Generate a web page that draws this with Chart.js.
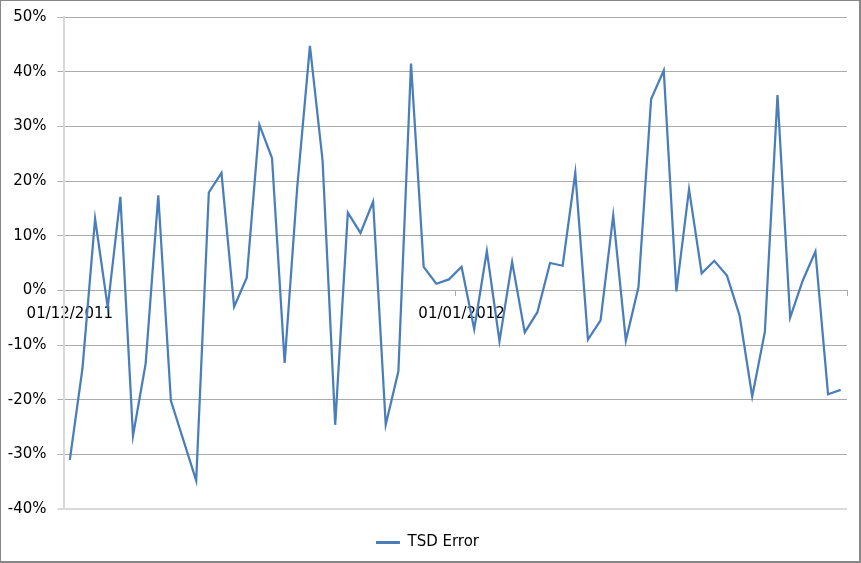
<!DOCTYPE html>
<html>
<head>
<meta charset="utf-8">
<script src="https://cdn.jsdelivr.net/npm/chart.js@4"></script>
<style>
  html, body { margin: 0; padding: 0; background: #fff; }
  #wrap { position: absolute; left: 0; top: 0; width: 861px; height: 563px; }
</style>
</head>
<body>
<div id="wrap"><canvas id="c" width="861" height="563"></canvas></div>
<script>
// Categories: daily dates, 01/12/2011 .. 31/01/2012
const dates = [
  "01/12/2011","02/12/2011","03/12/2011","04/12/2011","05/12/2011","06/12/2011","07/12/2011","08/12/2011",
  "09/12/2011","10/12/2011","11/12/2011","12/12/2011","13/12/2011","14/12/2011","15/12/2011","16/12/2011",
  "17/12/2011","18/12/2011","19/12/2011","20/12/2011","21/12/2011","22/12/2011","23/12/2011","24/12/2011",
  "25/12/2011","26/12/2011","27/12/2011","28/12/2011","29/12/2011","30/12/2011","31/12/2011",
  "01/01/2012","02/01/2012","03/01/2012","04/01/2012","05/01/2012","06/01/2012","07/01/2012","08/01/2012",
  "09/01/2012","10/01/2012","11/01/2012","12/01/2012","13/01/2012","14/01/2012","15/01/2012","16/01/2012",
  "17/01/2012","18/01/2012","19/01/2012","20/01/2012","21/01/2012","22/01/2012","23/01/2012","24/01/2012",
  "25/01/2012","26/01/2012","27/01/2012","28/01/2012","29/01/2012","30/01/2012","31/01/2012"
];
// Labelled dates on the axis
const shownDates = ["01/12/2011", "01/01/2012"];
// Series values (percent)
const tsdError = [
  -31.0, -14.3, 13.1, -3.1, 17.1, -26.6, -13.4, 17.4, -20.2, -27.5,
  -34.8, 17.9, 21.5, -3.0, 2.3, 30.3, 24.2, -13.3, 19.0, 44.7,
  23.8, -24.6, 14.2, 10.5, 16.2, -24.6, -14.8, 41.5, 4.3, 1.2,
  2.0, 4.3, -7.1, 7.2, -9.3, 5.2, -7.7, -4.0, 5.0, 4.5,
  21.5, -9.0, -5.5, 13.7, -9.2, 0.6, 35.0, 40.2, -0.2, 18.5,
  3.1, 5.4, 2.7, -4.6, -19.4, -7.6, 35.7, -5.0, 1.8, 7.1,
  -19.0, -18.2
];
const seriesName = "TSD Error";
// Y axis tick range
const yMin = -40, yMax = 50, yStep = 10;

const FONT = { family: "'DejaVu Sans', sans-serif", size: 15 };
const BLUE = '#4a7ebb';
const GRID = '#ababab';
const AXIS_LIGHT = '#d9d9d9';

const frame = {
  id: 'frame',
  beforeDraw(chart) {
    const ctx = chart.ctx;
    ctx.save();
    ctx.fillStyle = '#fff';
    ctx.fillRect(0, 0, chart.width, chart.height);
    ctx.restore();
  },
  afterDraw(chart) {
    const ctx = chart.ctx;
    ctx.save();
    ctx.strokeStyle = '#878787';
    ctx.lineWidth = 2;
    ctx.strokeRect(0, 0, chart.width - 1, chart.height - 1);
    ctx.restore();
  }
};

const shownIdx = shownDates.map(d => dates.indexOf(d));

new Chart(document.getElementById('c'), {
  type: 'line',
  data: {
    labels: dates,
    datasets: [{
      label: seriesName,
      data: tsdError,
      borderColor: BLUE,
      backgroundColor: BLUE,
      borderWidth: 2.25,
      pointRadius: 0,
      pointHoverRadius: 0,
      tension: 0,
      fill: false
    }]
  },
  options: {
    responsive: false,
    animation: false,
    events: [],
    layout: { padding: { left: 8, right: 14, top: 17, bottom: 3 } },
    plugins: {
      tooltip: { enabled: false },
      legend: {
        position: 'bottom',
        labels: {
          font: FONT,
          color: '#000',
          boxWidth: 24,
          boxHeight: 3,
          padding: 26,
          generateLabels(chart) {
            const items = Chart.defaults.plugins.legend.labels.generateLabels(chart);
            items.forEach(it => { it.lineWidth = 0; it.fillStyle = BLUE; });
            return items;
          }
        }
      }
    },
    scales: {
      x: {
        type: 'category',
        position: { y: 0 },
        offset: true,
        border: { display: true, color: GRID, width: 1 },
        grid: {
          offset: true,
          drawOnChartArea: false,
          drawTicks: true,
          tickLength: 5,
          tickColor: (c) => (c.index === undefined || shownIdx.includes(c.index)) ? GRID : 'rgba(0,0,0,0)',
          color: (c) => (c.index === undefined || shownIdx.includes(c.index)) ? GRID : 'rgba(0,0,0,0)'
        },
        ticks: {
          autoSkip: false,
          maxRotation: 0,
          minRotation: 0,
          padding: 10,
          font: FONT,
          color: '#000',
          callback: function(val, idx) {
            const lab = this.getLabelForValue(val);
            return shownDates.includes(lab) ? lab : '';
          }
        }
      },
      y: {
        min: yMin,
        max: yMax,
        afterFit(scale) { scale.width = 55.5; scale.paddingTop = 0; scale.paddingBottom = 0; },
        border: { display: true, color: AXIS_LIGHT, width: 2 },
        grid: {
          color: (c) => c.tick && c.tick.value === yMin ? AXIS_LIGHT : GRID,
          lineWidth: (c) => c.tick && c.tick.value === yMin ? 2 : 1,
          tickLength: 6,
          tickColor: (c) => c.tick && c.tick.value === yMin ? AXIS_LIGHT : GRID
        },
        ticks: {
          stepSize: yStep,
          padding: 11,
          font: FONT,
          color: '#000',
          callback: (v) => v + '%'
        }
      }
    }
  },
  plugins: [frame]
});
</script>
</body>
</html>
